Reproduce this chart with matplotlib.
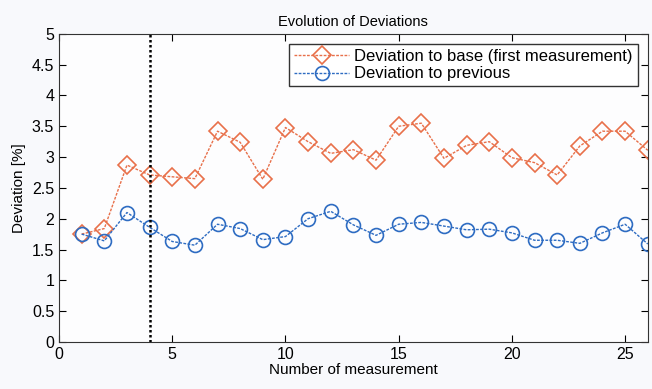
import matplotlib.pyplot as plt
import numpy as np

plt.rcParams['font.family'] = ['Liberation Sans', 'DejaVu Sans']

# data
measurements = np.arange(1, 27)
dev_base = [1.75, 1.84, 2.87, 2.71, 2.68, 2.65, 3.42, 3.24, 2.64, 3.48, 3.25, 3.06, 3.12,
            2.95, 3.50, 3.55, 2.98, 3.19, 3.25, 2.99, 2.91, 2.71, 3.18, 3.42, 3.42, 3.11]
dev_prev = [1.75, 1.64, 2.10, 1.86, 1.63, 1.57, 1.91, 1.84, 1.66, 1.71, 2.00, 2.12, 1.90,
            1.73, 1.91, 1.94, 1.88, 1.82, 1.83, 1.77, 1.65, 1.65, 1.60, 1.77, 1.91, 1.59]
marker_x = 4

fig = plt.figure(figsize=(6.52, 3.89), dpi=100, facecolor='#f8f9fc')
ax = fig.add_axes([0.0905, 0.121, 0.903, 0.792])
ax.set_facecolor('#fdfdfe')

orange = '#e8704a'
blue = '#2e6cc2'
ax.plot(measurements, dev_base, linestyle=(0, (2, 1)), color=orange, marker='D', markersize=9,
        markerfacecolor='none', markeredgecolor=orange, markeredgewidth=1.2,
        linewidth=1.0, label='Deviation to base (first measurement)')
ax.plot(measurements, dev_prev, linestyle=(0, (2, 1)), color=blue, marker='o', markersize=10,
        markerfacecolor='none', markeredgecolor=blue, markeredgewidth=1.2,
        linewidth=1.0, label='Deviation to previous')
ax.axvline(marker_x, color='black', linestyle=(0, (1, 1)), linewidth=1.8)

ax.set_xlim(0, 26)
ax.set_ylim(0, 5)
ax.set_xticks([0, 5, 10, 15, 20, 25])
ax.set_yticks(np.arange(0, 5.01, 0.5))
ax.set_yticklabels(['0', '0.5', '1', '1.5', '2', '2.5', '3', '3.5', '4', '4.5', '5'])
ax.tick_params(direction='in', top=True, right=True, labelsize=11.5, length=5)
for s in ax.spines.values():
    s.set_color('#333333')

ax.set_title('Evolution of Deviations', fontsize=10.5)
ax.set_xlabel('Number of measurement', fontsize=11, labelpad=1)
ax.set_ylabel('Deviation [%]', fontsize=11)

leg = ax.legend(loc='upper right', fontsize=12, fancybox=False, framealpha=1,
                edgecolor='#333333', handlelength=3.3, borderpad=0.3,
                labelspacing=0.15, handletextpad=0.3, borderaxespad=0.6)

fig.savefig('out.png', dpi=100, facecolor=fig.get_facecolor())
